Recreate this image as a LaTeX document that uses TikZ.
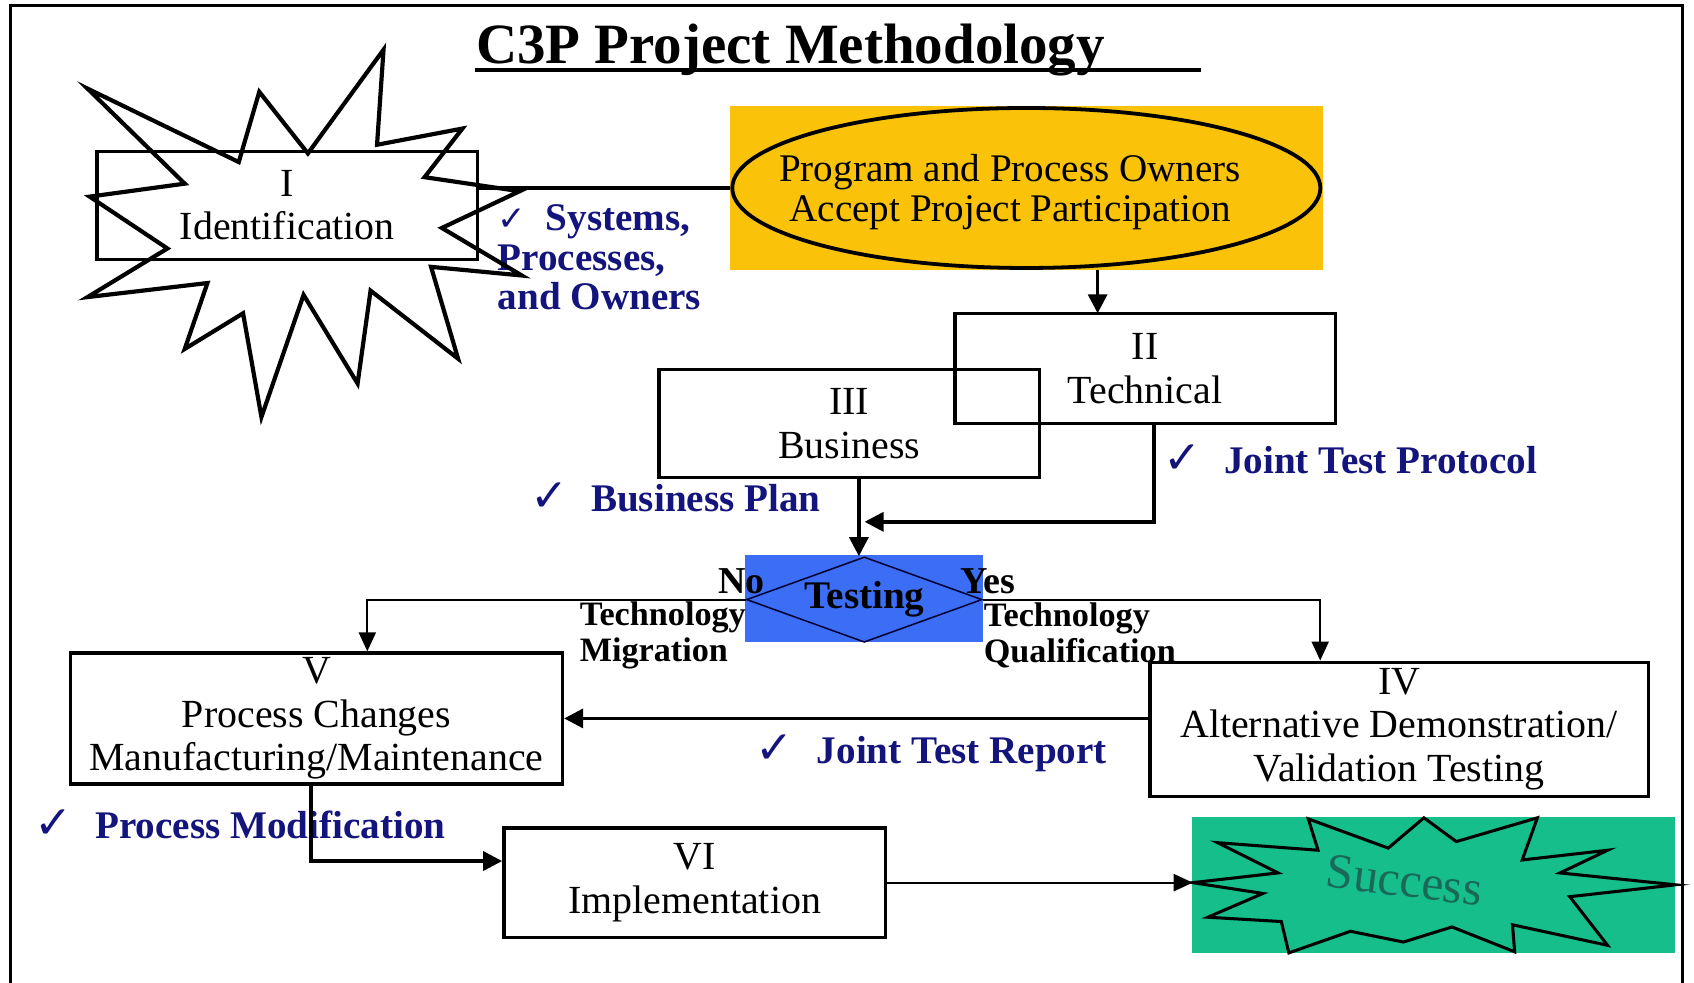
\documentclass[tikz,border=0pt]{standalone}
\usepackage{fontspec}
\setmainfont{Liberation Serif}
\newfontfamily\symfont{DejaVu Sans}
\usepackage{tikz}
\usetikzlibrary{positioning}
\usetikzlibrary{shapes.geometric}
\usetikzlibrary{arrows.meta}
\usepackage{xcolor}
\definecolor{ownergold}{RGB}{250,195,10}
\definecolor{testblue}{RGB}{60,110,245}
\definecolor{successgreen}{RGB}{22,190,140}
\definecolor{successtext}{RGB}{25,105,85}
\definecolor{notenavy}{RGB}{20,20,125}
\newcommand{\tick}{{\symfont\fontsize{12}{12}\selectfont ✓}}

\begin{document}
\begin{tikzpicture}[x=0.01cm, y=-0.01cm,
	stage/.style={draw, line width=0.9pt, align=center, inner sep=0pt, font=\fontsize{10.5}{11.5}\selectfont},
	note/.style={anchor=west, text=notenavy, inner sep=0pt, font=\bfseries\fontsize{10.3}{10.4}\selectfont},
	branch/.style={anchor=west, align=left, inner sep=0pt, font=\bfseries\fontsize{9}{9.4}\selectfont},
	arrowline/.style={line width=0.9pt, -{Triangle[length=5pt, width=5pt]}},
	thinarrow/.style={line width=0.5pt, -{Triangle[length=5pt, width=4.5pt]}}]
			\useasboundingbox (0,0) rectangle (1568,909);
			\draw[line width=0.8pt] (10,915) -- (10,5) -- (1557,5) -- (1557,915);
			\node[anchor=base west, inner sep=0pt, font=\bfseries\fontsize{15}{15}\selectfont] (title) at (440,59) {C3P Project Methodology};
			\draw[line width=1pt] (title.base west) ++(0,6) -- ++(672,0);
			\node[stage, minimum width=3.52cm, minimum height=1cm] (ident) at (266,190) {I\\Identification};
			\node[note, anchor=north west, align=left] (systems) at (460,189) {{\symfont\fontsize{9}{9}\selectfont ✓}\ \ Systems,\\Processes,\\and Owners};
			\draw[line width=1.1pt] (355,46) -- (349,134) -- (428,119) -- (393,164) -- (481,177) -- (409,211) -- (483,255) -- (399,247) -- (424,332) -- (343,269) -- (331,355) -- (281,273) -- (242,386) -- (225,290) -- (171,323) -- (192,262) -- (81,275) -- (155,230) -- (83,182) -- (171,170) -- (81,82) -- (221,150) -- (240,85) -- (285,142) -- cycle;
			\node[fill=ownergold, minimum width=5.48cm, minimum height=1.52cm, inner sep=0pt] (ownerbg) at (950,174) {};
			\node[ellipse, draw, line width=1pt, inner sep=0pt, minimum width=5.44cm, minimum height=1.48cm] (owners) at (950,174) {};
			\node[align=center, inner sep=0pt, font=\fontsize{10.3}{10.5}\selectfont] (ownerstext) at (935,178) {Program and Process Owners\\Accept Project Participation};
			\draw[line width=0.9pt] (owners.west) -- (owners.west -| ident.east);
			\node[stage, minimum width=3.52cm, minimum height=1.02cm] (tech) at (1060,341) {II\\Technical};
			\node[stage, minimum width=3.52cm, minimum height=1cm] (bus) at (786,392) {III\\Business};
			\coordinate (techin) at (1016,290);
			\draw[arrowline] (techin |- owners.south) -- (techin);
			\node[note] (protocolnote) at (1076,425) {\tick\hspace{6pt}Joint Test Protocol};
			\node[note] (plannote) at (490,460) {\tick\hspace{6pt}Business Plan};
			\node[fill=testblue, minimum width=2.2cm, minimum height=0.8cm, inner sep=0pt] (testbg) at (800,554) {};
			\node[diamond, draw=black!80!blue, line width=0.4pt, aspect=2.76, inner sep=0pt, minimum width=2.18cm, minimum height=0.79cm, font=\bfseries\fontsize{10.3}{10.5}\selectfont] (test) at (800,555) {Testing};
			\coordinate (protocol) at (1068,483);
			\coordinate (merge) at (795,483);
			\draw[arrowline] (protocol |- tech.south) -- (protocol) -- ([xshift=1.5pt]merge);
			\draw[arrowline] (bus.south -| merge) -- (merge |- test.north);
			\node[stage, minimum width=4.55cm, minimum height=1.21cm] (proc) at (293,665) {V\\Process Changes\\Manufacturing/Maintenance};
			\node[stage, minimum width=4.61cm, minimum height=1.24cm] (demo) at (1295,675) {IV\\Alternative Demonstration/\\Validation Testing};
			\node[stage, minimum width=3.53cm, minimum height=1.01cm] (impl) at (643,817) {VI\\Implementation};
			\coordinate (noturn) at (340,555);
			\coordinate (yesturn) at (1222,555);
			\draw[thinarrow] (test.west) -- (noturn) -- (noturn |- proc.north);
			\draw[thinarrow] (test.east) -- (yesturn) -- (yesturn |- demo.north);
			\node[branch, font=\bfseries\fontsize{10}{10}\selectfont] (no) at (664,538) {No};
			\node[branch, font=\bfseries\fontsize{10}{10}\selectfont] (yes) at (888,538) {Yes};
			\node[branch] (migrate) at (536,588) {Technology\\Migration};
			\node[branch] (qualify) at (910,588) {Technology\\Qualification};
			\draw[arrowline] (proc.east -| demo.west) -- (proc.east);
			\node[note] (reportnote) at (699,697) {\tick\hspace{6pt}Joint Test Report};
			\node[note] (modnote) at (31,763) {\tick\hspace{6pt}Process Modification};
			\coordinate (modturn) at (288,797);
			\draw[arrowline] (modturn |- proc.south) -- (modturn) -- (modturn -| impl.west);
			\node[fill=successgreen, minimum width=4.47cm, minimum height=1.26cm, inner sep=0pt] (success) at (1327,819) {};
			\coordinate (succtip) at (1104,817);
			\draw[line width=0.8pt] (succtip) -- (1183,808) -- (1127,780) -- (1220,787) -- (1211,758) -- (1285,785) -- (1318,757) -- (1348,779) -- (1423,757) -- (1409,796) -- (1488,787) -- (1444,808) -- (1551,819) -- (1453,830) -- (1488,875) -- (1400,856) -- (1402,881) -- (1344,858) -- (1299,872) -- (1250,862) -- (1193,882) -- (1186,853) -- (1118,849) -- (1169,827) -- cycle;
			\draw[line width=0.5pt] (1551,819) -- (1557,819);
			\node[rotate=-7, text=successtext, font=\fontsize{13}{13}\selectfont] (successlabel) at (1300,815) {Success};
			\draw[thinarrow] (impl.east) -- (impl.east -| succtip);
\end{tikzpicture}
\end{document}
